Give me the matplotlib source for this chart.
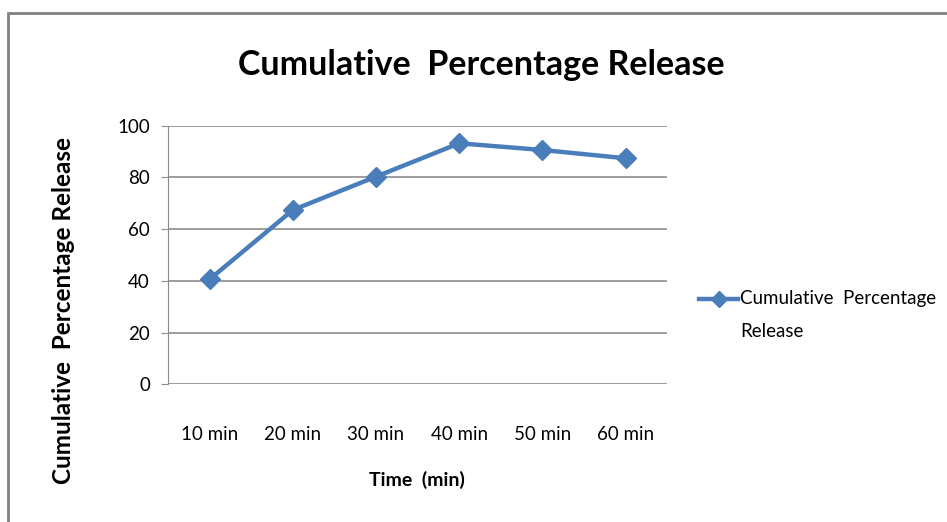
import matplotlib
matplotlib.use("Agg")
import matplotlib.pyplot as plt
from matplotlib.patches import Rectangle
from matplotlib.legend_handler import HandlerLine2D

categories = ["10 min", "20 min", "30 min", "40 min", "50 min", "60 min"]
values = [40.6, 67.4, 80.3, 93.2, 90.6, 87.4]
yticks = [0, 20, 40, 60, 80, 100]

plt.rcParams['font.family'] = ['Lato', 'DejaVu Sans']


class TopHandler(HandlerLine2D):
    def create_artists(self, legend, orig_handle, xdescent, ydescent, width, height,
                       fontsize, trans):
        arts = super().create_artists(legend, orig_handle, xdescent, ydescent, width,
                                      height, fontsize, trans)
        for a in arts:
            a.set_ydata([y + 12 for y in a.get_ydata()])
        return arts


fig = plt.figure(figsize=(9.47, 5.22), dpi=100)
ax = fig.add_axes([168/947, 1-384.3/522, (667.3-168)/947, (384.3-125.7)/522])

x = list(range(len(categories)))
line, = ax.plot(x, values, color='#4A7EBB', lw=3.2, marker='D', markersize=10,
                label='Cumulative  Percentage\nRelease')
ax.set_xlim(-0.5, len(categories) - 0.5)
ax.set_ylim(0, 100)
ax.set_yticks(yticks)
ax.set_xticks(x)
ax.set_xticklabels(categories)
ax.grid(axis='y', color='#8c8c8c', lw=1.2)
ax.set_axisbelow(True)
for s in ['top', 'right', 'bottom']:
    ax.spines[s].set_visible(False)
ax.spines['left'].set_color('#8c8c8c')
ax.tick_params(axis='y', length=5, color='#8c8c8c', labelsize=13.5, pad=8)
ax.tick_params(axis='x', length=0, labelsize=13.5, pad=30)

fig.text(481/947, 1-65/522, 'Cumulative  Percentage Release', ha='center', va='center',
         fontsize=24.5, fontweight='bold')
fig.text(64/947, 1-311/522, 'Cumulative  Percentage Release', ha='center', va='center',
         rotation=90, fontsize=17.5, fontweight='bold')
fig.text(417/947, 1-480/522, 'Time  (min)', ha='center', va='center',
         fontsize=14, fontweight='bold')

leg = fig.legend(loc='center left', bbox_to_anchor=(699/947, 1-315/522), frameon=False,
                 fontsize=13.5, handlelength=2.1, handletextpad=0.1, markerscale=0.8,
                 borderpad=0, borderaxespad=0, handler_map={line: TopHandler()})
for t in leg.get_texts():
    t.set_linespacing(2.1)

fig.patches.append(Rectangle((8/947, -0.1), 1.2, 1.1 - 13/522, transform=fig.transFigure,
                             fill=False, edgecolor='#808080', lw=2, figure=fig))

fig.savefig('out.png', dpi=100)
